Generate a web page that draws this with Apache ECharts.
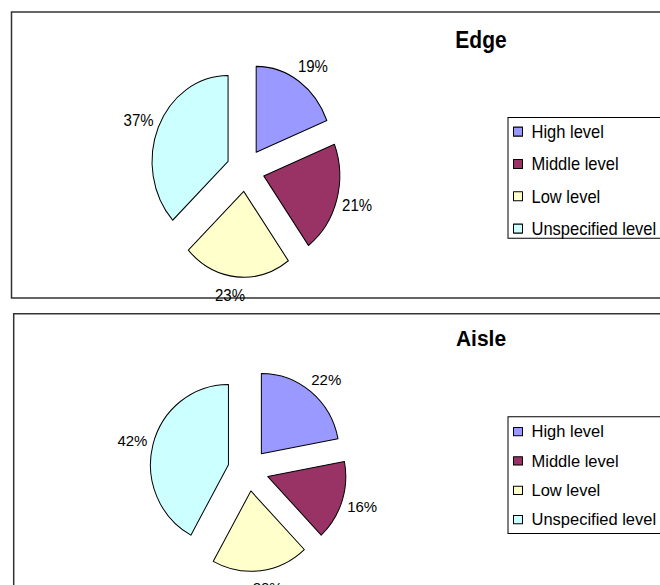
<!DOCTYPE html>
<html>
<head>
<meta charset="utf-8">
<script src="https://cdn.jsdelivr.net/npm/echarts@6/dist/echarts.min.js"></script>
<style>
  html, body { margin: 0; padding: 0; background: #fff; }
  body { width: 660px; height: 585px; position: relative; overflow: hidden; }
  /* the source pictures are stretched a bit in height, so each chart is scaled on y */
  #edge { position: absolute; left: 0; top: 0; width: 660px; height: 280px;
          transform: scaleY(1.13); transform-origin: 0 0; }
  #aisle { position: absolute; left: 0; top: 305px; width: 660px; height: 272px;
           transform: scaleY(1.03); transform-origin: 0 0; }
</style>
</head>
<body>
<div id="edge"></div>
<div id="aisle"></div>
<script>
// data
var levels = ['High level', 'Middle level', 'Low level', 'Unspecified level'];
var edgeShares = [19, 21, 23, 37];
var aisleShares = [22, 16, 20, 42];
var levelColors = ['#9999FF', '#993366', '#FFFFCC', '#CCFFFF'];

var FONT = '"Liberation Sans", Arial, sans-serif';

function makeData(values) {
  return levels.map(function (name, i) {
    return { name: name, value: values[i], selected: true };
  });
}

function buildOption(o) {
  return {
    animation: false,
    color: levelColors,
    graphic: [
      {
        type: 'rect', silent: true, z: 0,
        shape: { x: o.box[0], y: o.box[1], width: 720, height: o.box[2] },
        style: { fill: 'none', stroke: '#333', lineWidth: 1.5 }
      },
      {
        type: 'text', silent: true, z: 5,
        x: 481, y: o.titleY,
        style: {
          text: o.title, font: 'bold 21px ' + FONT, fill: '#000',
          textAlign: 'center', textVerticalAlign: 'middle',
          align: 'center', verticalAlign: 'middle'
        }
      }
    ],
    legend: {
      orient: 'vertical',
      left: 508,
      top: o.legendTop,
      align: 'left',
      selectedMode: false,
      data: levels,
      icon: 'rect',
      itemWidth: 9,
      itemHeight: 8,
      itemGap: o.legendGap,
      padding: o.legendPad,
      borderColor: '#000',
      borderWidth: 1,
      backgroundColor: '#fff',
      itemStyle: { borderColor: '#000', borderWidth: 1 },
      textStyle: {
        fontFamily: FONT, fontSize: 16.5, color: '#000',
        padding: [0, 0, 0, 4]
      }
    },
    series: [{
      type: 'pie',
      name: o.title,
      center: o.center,
      radius: o.radius,
      startAngle: 90,
      clockwise: true,
      selectedMode: 'multiple',
      selectedOffset: o.offset,
      avoidLabelOverlap: false,
      itemStyle: { borderColor: '#000', borderWidth: 1 },
      emphasis: { scale: false },
      label: {
        show: true,
        position: 'outside',
        formatter: '{c}%',
        fontFamily: FONT,
        fontSize: 15,
        color: '#000',
        distanceToLabelLine: -10
      },
      labelLine: { show: false, length: 16, length2: 0 },
      data: makeData(o.values)
    }]
  };
}

var edgeChart = echarts.init(document.getElementById('edge'), null, { renderer: 'svg' });
edgeChart.setOption(buildOption({
  title: 'Edge',
  values: edgeShares,
  box: [11.5, 10.6, 253.1],
  titleY: 35.5,
  legendTop: 104,
  legendGap: 11.6,
  legendPad: [4, 12, 0, 5],
  center: [245.5, 150.4],
  radius: 76,
  offset: 19
}));

var aisleChart = echarts.init(document.getElementById('aisle'), null, { renderer: 'svg' });
aisleChart.setOption(buildOption({
  title: 'Aisle',
  values: aisleShares,
  box: [13.7, 8.4, 320],
  titleY: 33,
  legendTop: 108.4,
  legendGap: 11.5,
  legendPad: [6, 12, 5, 5],
  center: [248.3, 160.2],
  radius: 78,
  offset: 20.5
}));
</script>
</body>
</html>
